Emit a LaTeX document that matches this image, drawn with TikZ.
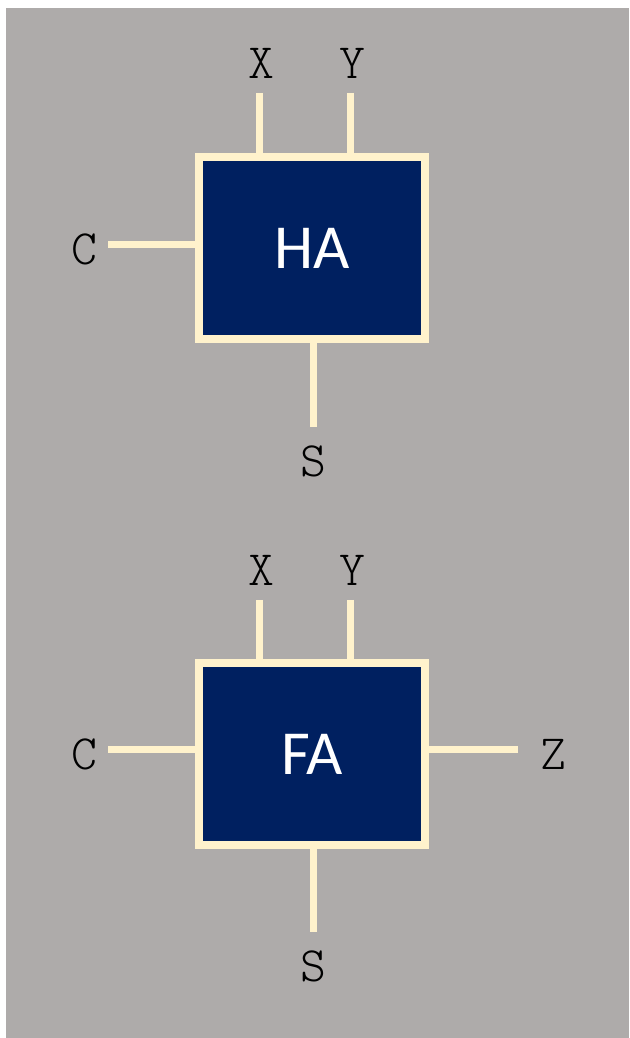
\documentclass[tikz,border=0pt]{standalone}
\usepackage{fontspec}
\newfontfamily\blockfont{Carlito}
\newfontfamily\pinfont{Latin Modern Mono Light}
\usetikzlibrary{positioning}
\definecolor{panel}{HTML}{AEABAA}
\definecolor{navy}{HTML}{002060}
\definecolor{cream}{HTML}{FFF2CC}
\tikzset{
  block/.style={draw=cream, line width=6pt, fill=navy, text=white,
    minimum width=169.5pt, minimum height=136.5pt,
    font=\blockfont\fontsize{47}{52}\selectfont},
  pin/.style={draw=cream, line width=5.25pt},
  lbl/.style={font=\pinfont\fontsize{37}{42}\selectfont, inner sep=0pt}
}

\begin{document}
\begin{tikzpicture}[x=0.75pt, y=0.75pt]
  \useasboundingbox (0,0) rectangle (629,1038);
  \fill[panel] (6,0) rectangle (629,1030);
  % half adder
  \node[block] (ha) at (312,790) {HA};
  \coordinate (hax) at (259,945);
  \coordinate (hay) at (350,945);
  \coordinate (hac) at (108,793);
  \coordinate (has) at (313,611);
  \foreach \p in {hax, hay}
    \draw[pin] (\p) -- (\p |- ha.north);
  \draw[pin] (hac) -- (hac -| ha.west);
  \draw[pin] (has) -- (has |- ha.south);
  \node[lbl, above=11pt of hax, xshift=1.5pt] (hax-l) {X};
  \node[lbl, above=11pt of hay, xshift=1.5pt] (hay-l) {Y};
  \node[lbl, left=8pt of hac, yshift=-3.5pt] (hac-l) {C};
  \node[lbl, below=14pt of has] (has-l) {S};
  % full adder
  \node[block] (fa) at (312,284) {FA};
  \coordinate (fax) at (259,438);
  \coordinate (fay) at (350,438);
  \coordinate (fac) at (108,288);
  \coordinate (faz) at (518,288);
  \coordinate (fas) at (313,106);
  \foreach \p in {fax, fay}
    \draw[pin] (\p) -- (\p |- fa.north);
  \draw[pin] (fac) -- (fac -| fa.west);
  \draw[pin] (faz) -- (faz -| fa.east);
  \draw[pin] (fas) -- (fas |- fa.south);
  \node[lbl, above=11pt of fax, xshift=1.5pt] (fax-l) {X};
  \node[lbl, above=11pt of fay, xshift=1.5pt] (fay-l) {Y};
  \node[lbl, left=8pt of fac, yshift=-3.5pt] (fac-l) {C};
  \node[lbl, right=17pt of faz, yshift=-3.5pt] (faz-l) {Z};
  \node[lbl, below=14pt of fas] (fas-l) {S};
\end{tikzpicture}
\end{document}
